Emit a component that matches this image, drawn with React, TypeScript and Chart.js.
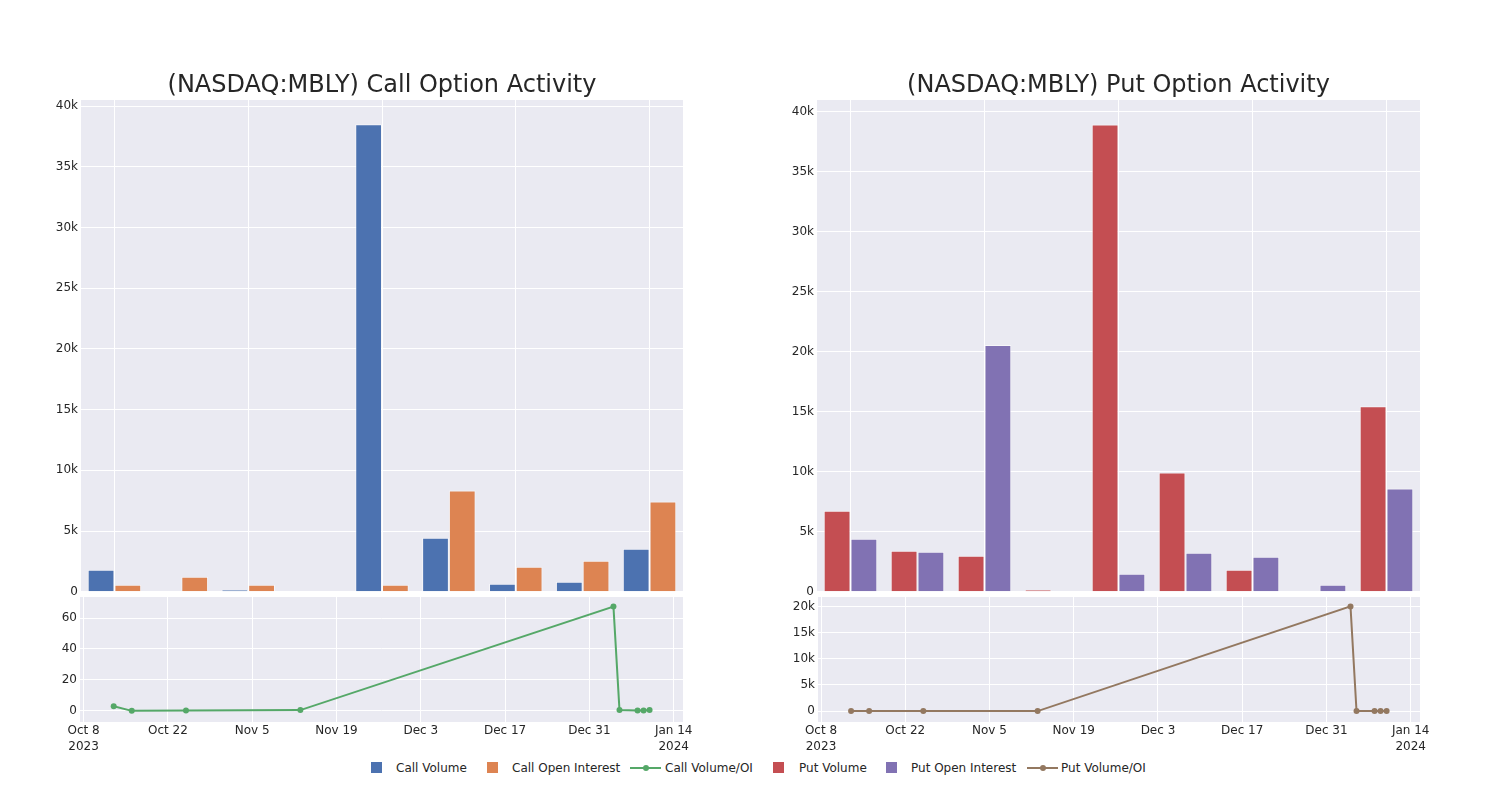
import React, { useEffect, useRef } from "react";
import { Chart, registerables } from "chart.js";

Chart.register(...registerables);

// ---------- DATA ----------
const categories = [
  "2023-10-13", "2023-10-16", "2023-10-25", "2023-11-13",
  "2024-01-04", "2024-01-05", "2024-01-08", "2024-01-09", "2024-01-10",
];
const callVolume = [1820, 0, 170, 40, 38500, 4460, 660, 830, 3550];
const callOpenInterest = [580, 1240, 580, 60, 580, 8350, 2070, 2560, 7440];
const callVolumeOI = [3.0, 0, 0.3, 0.5, 67.4, 0.5, 0.3, 0.3, 0.5];
const putVolume = [6750, 3420, 3000, 160, 38900, 9930, 1840, 60, 15440];
const putOpenInterest = [4420, 3340, 20550, 0, 1500, 3250, 2920, 580, 8600];
const putVolumeOI = [1.5, 1.0, 0.15, 0, 20000, 3.1, 0.6, 0.1, 1.8];

const barYTicks = [0, 5000, 10000, 15000, 20000, 25000, 30000, 35000, 40000];
const callRatioTicks = [0, 20, 40, 60];
const putRatioTicks = [0, 5000, 10000, 15000, 20000];
const xTickDates = [
  "2023-10-08", "2023-10-22", "2023-11-05", "2023-11-19",
  "2023-12-03", "2023-12-17", "2023-12-31", "2024-01-14",
];
const xTickLabels: (string | string[])[] = [
  ["Oct 8", "2023"], "Oct 22", "Nov 5", "Nov 19", "Dec 3", "Dec 17", "Dec 31", ["Jan 14", "2024"],
];

// ---------- STYLE ----------
const FONT = "'DejaVu Sans', sans-serif";
const TEXT = "#262626";
const BG = "#EAEAF2";
const C_BLUE = "#4C72B0";
const C_ORANGE = "#DD8452";
const C_GREEN = "#55A868";
const C_RED = "#C44E52";
const C_PURPLE = "#8172B3";
const C_BROWN = "#937860";

const ORIGIN = Date.parse("2023-10-08T00:00:00Z");
const toDay = (d: string) => (Date.parse(d + "T00:00:00Z") - ORIGIN) / 86400000;
const kFmt = (v: number) => (v === 0 ? "0" : `${v / 1000}k`);

const bgPlugin = {
  id: "plotBg",
  beforeDraw(chart: any) {
    const { ctx, chartArea: a } = chart;
    ctx.save();
    ctx.fillStyle = BG;
    ctx.fillRect(a.left, a.top, a.right - a.left, a.bottom - a.top);
    ctx.restore();
  },
};

function barConfig(
  title: string,
  vol: number[],
  oi: number[],
  volColor: string,
  oiColor: string,
  volLabel: string,
  oiLabel: string,
  yMax: number,
  yWidth: number,
  padRight: number
): any {
  return {
    type: "bar",
    data: {
      labels: categories,
      datasets: [
        {
          label: volLabel,
          data: vol,
          backgroundColor: volColor,
          borderColor: "rgba(255,255,255,0.55)",
          borderWidth: 1,
          categoryPercentage: 0.8,
          barPercentage: 1,
        },
        {
          label: oiLabel,
          data: oi,
          backgroundColor: oiColor,
          borderColor: "rgba(255,255,255,0.55)",
          borderWidth: 1,
          categoryPercentage: 0.8,
          barPercentage: 1,
        },
      ],
    },
    options: {
      animation: false,
      responsive: false,
      devicePixelRatio: 1,
      layout: { padding: { top: 0, left: 0, right: padRight, bottom: 7 } },
      plugins: {
        legend: { display: false },
        tooltip: { enabled: false },
        title: {
          display: true,
          text: title,
          fullSize: false,
          color: TEXT,
          font: { family: FONT, size: 24, weight: "normal" },
          padding: { top: 11, bottom: 0.2 },
        },
      },
      scales: {
        x: {
          type: "category",
          offset: true,
          grid: {
            offset: false,
            drawTicks: false,
            color: (c: any) => (c.index % 2 === 0 ? "#ffffff" : "rgba(0,0,0,0)"),
            lineWidth: 1,
          },
          border: { display: false },
          ticks: { display: false },
          afterFit: (s: any) => {
            s.height = 0;
          },
        },
        y: {
          min: 0,
          max: yMax,
          grid: { color: "#ffffff", drawTicks: false, lineWidth: 1 },
          border: { display: false },
          ticks: {
            color: TEXT,
            font: { family: FONT, size: 12 },
            padding: 3,
            callback: (v: any) => kFmt(Number(v)),
          },
          afterBuildTicks: (s: any) => {
            s.ticks = barYTicks.map((v) => ({ value: v }));
          },
          afterFit: (s: any) => {
            s.width = yWidth;
          },
        },
      },
    },
    plugins: [bgPlugin],
  };
}

function lineConfig(
  label: string,
  values: number[],
  color: string,
  yMin: number,
  yMax: number,
  yTicks: number[],
  fmt: (v: number) => string,
  xMin: number,
  yWidth: number,
  padRight: number
): any {
  return {
    type: "line",
    data: {
      datasets: [
        {
          label,
          data: categories.map((d, i) => ({ x: toDay(d), y: values[i] })),
          borderColor: color,
          backgroundColor: color,
          pointBackgroundColor: color,
          pointBorderWidth: 0,
          pointRadius: 3,
          borderWidth: 2,
          tension: 0,
        },
      ],
    },
    options: {
      animation: false,
      responsive: false,
      devicePixelRatio: 1,
      layout: { padding: { top: 12, left: 0, right: padRight, bottom: 0 } },
      plugins: { legend: { display: false }, tooltip: { enabled: false } },
      scales: {
        x: {
          type: "linear",
          min: xMin,
          max: 99.55,
          grid: { color: "#ffffff", drawTicks: false, lineWidth: 1 },
          border: { display: false },
          ticks: {
            color: TEXT,
            font: { family: FONT, size: 12, lineHeight: 1.35 },
            padding: 1,
            autoSkip: false,
            maxRotation: 0,
            callback: (_v: any, i: number) => xTickLabels[i],
          },
          afterBuildTicks: (s: any) => {
            s.ticks = xTickDates.map((d) => ({ value: toDay(d) }));
          },
          afterFit: (s: any) => {
            s.height = 35;
          },
        },
        y: {
          min: yMin,
          max: yMax,
          grid: { color: "#ffffff", drawTicks: false, lineWidth: 1 },
          border: { display: false },
          ticks: {
            color: TEXT,
            font: { family: FONT, size: 12 },
            padding: 3,
            callback: (v: any) => fmt(Number(v)),
          },
          afterBuildTicks: (s: any) => {
            s.ticks = yTicks.map((v) => ({ value: v }));
          },
          afterFit: (s: any) => {
            s.width = yWidth;
          },
        },
      },
    },
    plugins: [bgPlugin],
  };
}

function ChartBox(props: { config: any; left: number; top: number; width: number; height: number }) {
  const { config, left, top, width, height } = props;
  const ref = useRef<HTMLCanvasElement>(null);
  useEffect(() => {
    const chart = new Chart(ref.current as HTMLCanvasElement, config);
    return () => chart.destroy();
  }, []);
  return (
    <div style={{ position: "absolute", left, top, width, height }}>
      <canvas ref={ref} width={width} height={height} style={{ width, height, display: "block" }} />
    </div>
  );
}

function legendText(x: number): React.CSSProperties {
  return {
    position: "absolute",
    left: x,
    top: 760,
    fontFamily: FONT,
    fontSize: 12,
    lineHeight: "16px",
    color: TEXT,
    whiteSpace: "nowrap",
  };
}

function LegendBox(props: { color: string; x: number; label: string; textX: number }) {
  return (
    <>
      <div
        style={{
          position: "absolute",
          left: props.x,
          top: 762,
          width: 11,
          height: 11,
          background: props.color,
        }}
      />
      <div style={legendText(props.textX)}>{props.label}</div>
    </>
  );
}

function LegendLine(props: { color: string; x: number; label: string; textX: number }) {
  return (
    <>
      <div
        style={{
          position: "absolute",
          left: props.x,
          top: 767,
          width: 31,
          height: 2,
          background: props.color,
        }}
      />
      <div
        style={{
          position: "absolute",
          left: props.x + 12.5,
          top: 765,
          width: 6,
          height: 6,
          borderRadius: 3,
          background: props.color,
        }}
      />
      <div style={legendText(props.textX)}>{props.label}</div>
    </>
  );
}

export default function App() {
  const callBar = barConfig(
    "(NASDAQ:MBLY) Call Option Activity",
    callVolume, callOpenInterest, C_BLUE, C_ORANGE,
    "Call Volume", "Call Open Interest", 40500, 61, 17
  );
  const putBar = barConfig(
    "(NASDAQ:MBLY) Put Option Activity",
    putVolume, putOpenInterest, C_RED, C_PURPLE,
    "Put Volume", "Put Open Interest", 40950, 57, 20
  );
  const callLine = lineConfig(
    "Call Volume/OI", callVolumeOI, C_GREEN, -7.2, 73.6, callRatioTicks,
    (v) => String(v), -0.6, 60, 17
  );
  const putLine = lineConfig(
    "Put Volume/OI", putVolumeOI, C_BROWN, -2080, 21800, putRatioTicks,
    kFmt, -0.5, 58, 20
  );

  return (
    <div style={{ position: "absolute", left: 0, top: 0, width: 1500, height: 800, background: "#ffffff" }}>
      <ChartBox config={callBar} left={20} top={60} width={680} height={542} />
      <ChartBox config={putBar} left={760} top={60} width={680} height={542} />
      <ChartBox config={callLine} left={20} top={585} width={680} height={172} />
      <ChartBox config={putLine} left={760} top={585} width={680} height={172} />

      <LegendBox color={C_BLUE} x={371} label="Call Volume" textX={396} />
      <LegendBox color={C_ORANGE} x={487} label="Call Open Interest" textX={512} />
      <LegendLine color={C_GREEN} x={630} label="Call Volume/OI" textX={665} />
      <LegendBox color={C_RED} x={773} label="Put Volume" textX={799} />
      <LegendBox color={C_PURPLE} x={886} label="Put Open Interest" textX={911} />
      <LegendLine color={C_BROWN} x={1027} label="Put Volume/OI" textX={1061} />
    </div>
  );
}
